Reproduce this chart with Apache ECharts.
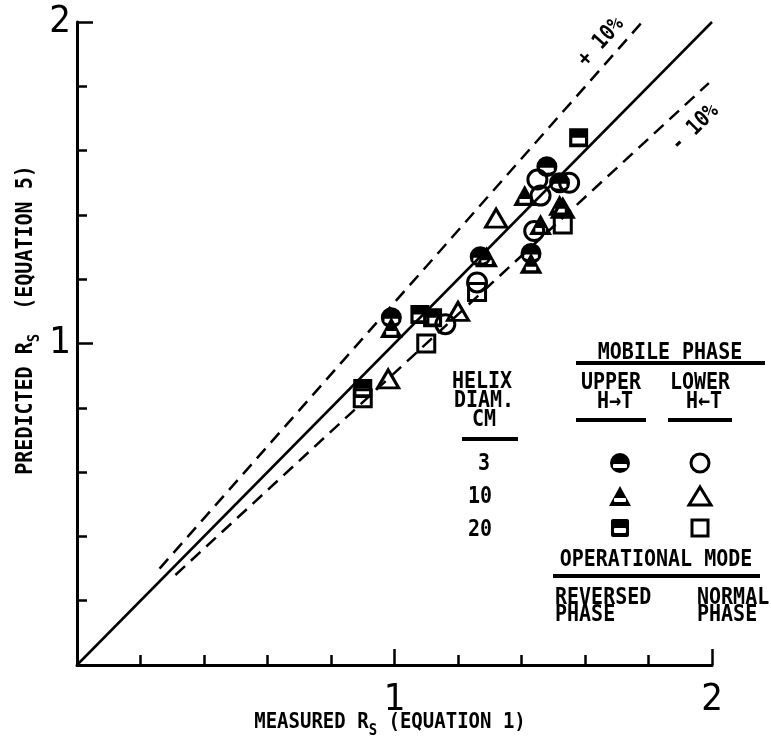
<!DOCTYPE html>
<html>
<head>
<meta charset="utf-8">
<script src="https://cdn.jsdelivr.net/npm/echarts@6/dist/echarts.min.js"></script>
<style>
  html, body { margin: 0; padding: 0; background: #fff; }
  #chart { width: 771px; height: 740px; }
</style>
</head>
<body>
<div id="chart"></div>
<script>
// 轴刻度标签（只在 1 和 2 处显示）
const tickLabels = ['1', '2'];

// 参考线: y = x 以及 ±10% 虚线（端点从图上读取）
const identityLine = [[0, 0], [2, 2]];
const plus10Line = [[0.26, 0.30], [1.78, 2.0]];
const minus10Line = [[0.31, 0.28], [1.99, 1.81]];

// UPPER H→T (反相) —— 半实心符号
const upper3cm = [[0.99, 1.08], [1.27, 1.27], [1.43, 1.28], [1.48, 1.55], [1.52, 1.50]];
const upper10cm = [[0.99, 1.05], [1.29, 1.27], [1.43, 1.25], [1.41, 1.46], [1.46, 1.37], [1.52, 1.43]];
const upper20cm = [[0.90, 0.86], [1.08, 1.09], [1.12, 1.08], [1.58, 1.64]];

// LOWER H←T (正相) —— 空心符号
const lower3cm = [[1.16, 1.06], [1.26, 1.19], [1.44, 1.35], [1.46, 1.46], [1.45, 1.51], [1.55, 1.50]];
const lower10cm = [[0.98, 0.89], [1.20, 1.10], [1.32, 1.39], [1.53, 1.42]];
const lower20cm = [[0.90, 0.83], [1.10, 1.00], [1.26, 1.16], [1.53, 1.37]];

// 半实心符号路径（内部矩形反向绕行 => 镂空）
const halfCircle = 'M10,0 A10,10 0 1,1 10,20 A10,10 0 1,1 10,0 Z M3.5,11 L3.5,14 Q10,17.5 16.5,14 L16.5,11 Z';
const halfTriangle = 'M10,0 L20,18 L0,18 Z M5.5,12 L5.5,15.2 L14.5,15.2 L14.5,12 Z';
const halfSquare = 'M0,0 L18,0 L18,18 L0,18 Z M3,9 L3,14.5 L15,14.5 L15,9 Z';

const FONT = '"DejaVu Sans Mono", monospace';
const black = '#000';

let chart = echarts.init(document.getElementById('chart'));

// 图例文字（y 下移 3px，让大写字母居中）
function txt(str, x, y, size, align, extra) {
    return Object.assign({
        type: 'text', x: x, y: y + 3, scaleY: 1.18,
        style: { text: str, font: 'bold ' + size + 'px ' + FONT, fill: black, align: align || 'left', verticalAlign: 'middle' }
    }, extra || {});
}
function hline(x1, x2, y, w) {
    return { type: 'line', shape: { x1: x1, y1: y, x2: x2, y2: y }, style: { stroke: black, lineWidth: w || 4 } };
}
function whiteBar(x, y, w, h) {
    return { type: 'rect', shape: { x: x, y: y, width: w, height: h, r: 1 }, style: { fill: '#fff' }, z: 101 };
}
function refLine(data, dashed) {
    return {
        type: 'line', data: data, symbol: 'none', silent: true,
        lineStyle: { color: black, width: 2.5, type: dashed ? [13, 8] : 'solid' }, z: 1
    };
}
function halfSeries(data, path, size) {
    return { type: 'scatter', data: data, symbol: 'path://' + path, symbolSize: size, itemStyle: { color: black, opacity: 1 }, z: 3 };
}
function openSeries(data, symbol, size) {
    return {
        type: 'scatter', data: data, symbol: symbol, symbolSize: size,
        itemStyle: { color: 'rgba(0,0,0,0)', borderColor: black, borderWidth: 3, opacity: 1 }, z: 3
    };
}

const axisCommon = {
    type: 'value', min: 0, max: 2, interval: 1,
    axisLine: { show: true, lineStyle: { color: black, width: 3 } },
    axisTick: { show: true, inside: true, length: 16, lineStyle: { color: black, width: 2.5 } },
    minorTick: { show: true, splitNumber: 5, length: 10, lineStyle: { color: black, width: 2.5 } },
    splitLine: { show: false },
    minorSplitLine: { show: false }
};
const labelFmt = v => (v === 0 ? '' : tickLabels[Math.round(v) - 1]);
const labelFont = '"Liberation Sans Narrow", "DejaVu Sans Condensed", sans-serif';
const titleRich = { s: { font: 'bold 14px ' + FONT, fill: black, padding: [15, 0, 0, 0] } };

chart.setOption({
    animation: false,
    backgroundColor: '#fff',
    grid: { left: 77, top: 22, right: 59, bottom: 75, containLabel: false },
    xAxis: Object.assign({}, axisCommon, {
        axisLabel: { formatter: labelFmt, fontSize: 38, fontFamily: labelFont, color: black, margin: 16 }
    }),
    yAxis: Object.assign({}, axisCommon, {
        axisLabel: { formatter: labelFmt, fontSize: 38, fontFamily: labelFont, color: black, margin: 6 }
    }),
    series: [
        refLine(identityLine, false),
        refLine(plus10Line, true),
        refLine(minus10Line, true),
        halfSeries(upper3cm, halfCircle, 21),
        halfSeries(upper10cm, halfTriangle, [23, 21]),
        halfSeries(upper20cm, halfSquare, 19),
        openSeries(lower3cm, 'circle', 19),
        openSeries(lower10cm, 'triangle', [21, 18]),
        openSeries(lower20cm, 'rect', 17)
    ],
    graphic: [
        // 轴标题
        { type: 'text', x: 26, y: 320, rotation: Math.PI / 2, scaleY: 1.15,
          style: { text: 'PREDICTED R{s|S}  (EQUATION 5)', font: 'bold 20px ' + FONT, fill: black, align: 'center', verticalAlign: 'middle', rich: titleRich } },
        { type: 'text', x: 390, y: 722, scaleY: 1.15,
          style: { text: 'MEASURED R{s|S} (EQUATION 1)', font: 'bold 19px ' + FONT, fill: black, align: 'center', verticalAlign: 'middle', rich: titleRich } },
        // ±10% 标注
        txt('+ 10%', 601, 39, 19, 'center', { rotation: 0.84 }),
        txt('- 10%', 695, 125, 19, 'center', { rotation: 0.78 }),
        // 图例: HELIX DIAM.
        txt('HELIX', 482, 379, 20, 'center'),
        txt('DIAM.', 484, 398, 20, 'center'),
        txt('CM', 484, 417, 20, 'center'),
        hline(462, 518, 439),
        txt('3', 484, 461, 20, 'center'),
        txt('10', 480, 494, 20, 'center'),
        txt('20', 480, 527, 20, 'center'),
        // MOBILE PHASE
        txt('MOBILE PHASE', 670, 350, 20, 'center'),
        hline(576, 765, 363),
        txt('UPPER', 611, 380, 20, 'center'),
        txt('H→T', 615, 399, 20, 'center'),
        hline(576, 646, 420),
        txt('LOWER', 700, 380, 20, 'center'),
        txt('H←T', 704, 399, 20, 'center'),
        hline(668, 732, 420),
        // 图例符号
        { type: 'circle', shape: { cx: 620, cy: 463, r: 10 }, style: { fill: black }, z: 100 },
        whiteBar(613, 464, 14, 4),
        { type: 'circle', shape: { cx: 700, cy: 463, r: 9 }, style: { fill: 'none', stroke: black, lineWidth: 3 } },
        { type: 'polygon', shape: { points: [[620, 486], [631, 506], [609, 506]] }, style: { fill: black }, z: 100 },
        whiteBar(614, 498, 12, 4),
        { type: 'polygon', shape: { points: [[700, 487], [711, 505], [689, 505]] }, style: { fill: 'none', stroke: black, lineWidth: 3 } },
        { type: 'rect', shape: { x: 611, y: 519, width: 18, height: 18, r: 2 }, style: { fill: black }, z: 100 },
        whiteBar(614, 528, 12, 5),
        { type: 'rect', shape: { x: 692, y: 520, width: 16, height: 16 }, style: { fill: 'none', stroke: black, lineWidth: 3 } },
        // OPERATIONAL MODE
        txt('OPERATIONAL MODE', 656, 557, 20, 'center'),
        hline(553, 760, 576),
        txt('REVERSED', 555, 595, 20, 'left'),
        txt('PHASE', 555, 612, 20, 'left'),
        txt('NORMAL', 697, 595, 20, 'left'),
        txt('PHASE', 697, 612, 20, 'left')
    ]
});
</script>
</body>
</html>
